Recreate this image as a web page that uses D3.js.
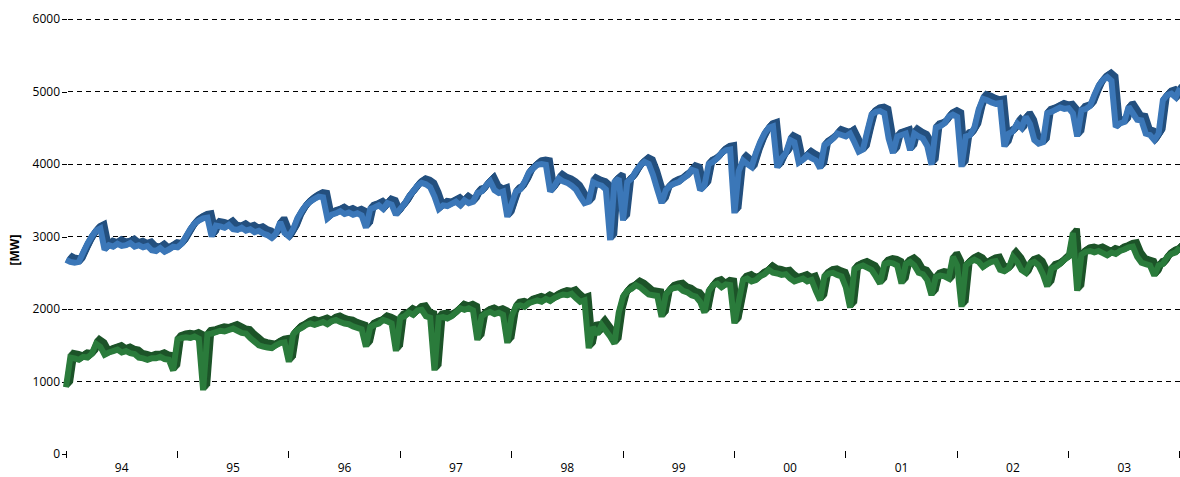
<!DOCTYPE html>
<html><head><meta charset="utf-8">
<script src="https://cdn.jsdelivr.net/npm/d3@7"></script>
<style>body{margin:0;background:#fff}svg{display:block}text{font-family:"Open Sans",sans-serif;fill:#000}</style>
</head><body><svg id="c" width="1180" height="477"></svg>
<script>
const yearLabels = ["94","95","96","97","98","99","00","01","02","03"];
const yTicks = [0,1000,2000,3000,4000,5000,6000];
const gridTicks = [1000,2000,3000,4000,5000,6000];
const startYear = 1994;
const pointsPerYear = 26;
const yLabel = "[MW]";

const blueValues = [
2680,2650,2640,2650,2780,2900,3000,3080,3110,2820,2880,2860,2900,2870,2880,2910,2860,2880,2850,2870,2810,2800,2840,2790,2820,2860,
2850,2900,3000,3100,3180,3220,3250,3260,3000,3150,3140,3120,3160,3100,3090,3120,3080,3100,3060,3080,3040,3020,2980,3040,3200,3050,
3000,3100,3250,3350,3430,3480,3520,3550,3540,3250,3300,3320,3350,3310,3330,3300,3320,3290,3120,3380,3400,3430,3380,3460,3440,3300,
3380,3450,3550,3620,3700,3740,3720,3680,3550,3380,3430,3420,3450,3480,3430,3500,3460,3480,3600,3620,3700,3760,3640,3600,3620,3270,
3450,3620,3650,3750,3880,3940,3990,4000,3990,3620,3700,3800,3760,3740,3700,3650,3550,3460,3480,3750,3720,3700,3650,2950,3750,3800,
3220,3750,3800,3900,3980,4030,4000,3850,3650,3460,3640,3700,3730,3750,3800,3840,3920,3900,3640,3700,4000,4030,4080,4150,4190,4200,
3320,3900,4050,4000,3960,4150,4300,4420,4500,4520,3950,4080,4150,4330,4300,4020,4060,4120,4080,4050,3940,4260,4300,4350,4420,4400,
4380,4420,4300,4170,4200,4450,4680,4720,4730,4700,4350,4150,4380,4400,4420,4190,4420,4380,4350,4250,3990,4500,4520,4560,4650,4680,
4650,3960,4380,4400,4500,4750,4900,4880,4850,4830,4840,4240,4420,4450,4560,4500,4650,4550,4330,4280,4300,4700,4720,4750,4780,4760,
4770,4700,4380,4740,4760,4800,4950,5080,5160,5200,5150,4510,4560,4580,4790,4700,4610,4600,4420,4400,4330,4420,4880,4950,4970,4920,
5050];

const greenValues = [
920,1330,1320,1300,1340,1330,1380,1520,1480,1370,1400,1420,1440,1400,1420,1390,1380,1330,1320,1300,1320,1320,1340,1310,1300,1150,
1580,1600,1610,1600,1620,1590,880,1650,1660,1680,1700,1690,1710,1730,1700,1670,1660,1600,1550,1500,1480,1470,1460,1500,1530,1540,
1270,1650,1710,1740,1780,1800,1780,1800,1820,1790,1830,1850,1820,1800,1790,1760,1740,1720,1480,1750,1780,1800,1850,1830,1800,1420,
1880,1900,1950,1920,1980,1990,1900,1880,1150,1880,1890,1870,1900,1950,2010,1990,2010,1980,1570,1900,1940,1960,1930,1950,1920,1530,
1900,2040,2050,2030,2080,2100,2120,2100,2140,2110,2150,2180,2200,2190,2210,2150,2100,2120,1460,1750,1650,1780,1700,1620,1520,1950,
2170,2250,2280,2330,2300,2250,2200,2190,2180,1890,2200,2270,2290,2300,2250,2230,2190,2170,2100,1950,2250,2330,2350,2300,2340,2330,
1800,2100,2400,2420,2380,2400,2450,2480,2540,2500,2490,2470,2480,2420,2380,2400,2420,2380,2400,2250,2120,2450,2490,2500,2470,2450,
2300,2020,2550,2580,2600,2570,2540,2450,2350,2620,2640,2630,2600,2350,2620,2650,2600,2500,2480,2400,2190,2440,2460,2450,2420,2720,
2600,2030,2600,2650,2680,2650,2580,2620,2650,2660,2540,2520,2560,2720,2650,2540,2500,2630,2650,2600,2480,2310,2560,2580,2620,2680,
2720,3050,2250,2750,2790,2800,2780,2800,2770,2740,2780,2760,2800,2820,2850,2860,2720,2640,2620,2600,2460,2600,2620,2720,2760,2780,
2850];

const svg = d3.select("#c");
const x = d3.scaleLinear().domain([startYear, startYear + yearLabels.length]).range([66, 1180]);
const y = d3.scaleLinear().domain([0, 6000]).range([454, 19]);

// gridlines
svg.append("g").selectAll("line").data(gridTicks).join("line")
  .attr("x1", 68).attr("x2", 1180)
  .attr("y1", d => y(d)).attr("y2", d => y(d))
  .attr("stroke", "#000").attr("stroke-width", 1).attr("stroke-dasharray", "5,4")
  .attr("shape-rendering", "crispEdges");

// y axis
const yAxis = d3.axisLeft(y).tickValues(yTicks).tickSize(5).tickPadding(2).tickFormat(d3.format("d"));
const ya = svg.append("g").attr("transform", "translate(67,0)").call(yAxis);
ya.select(".domain").remove();
ya.selectAll("line").attr("stroke", "#000").attr("shape-rendering", "crispEdges");
ya.selectAll("text").attr("font-size", 12).attr("font-family", "'Open Sans',sans-serif").attr("fill", "#000");

// x axis ticks + labels
const years = d3.range(startYear, startYear + yearLabels.length + 1);
svg.append("g").selectAll("line").data(years).join("line")
  .attr("x1", d => Math.min(x(d), 1179)).attr("x2", d => Math.min(x(d), 1179))
  .attr("y1", 451).attr("y2", 458)
  .attr("stroke", "#000").attr("shape-rendering", "crispEdges");
svg.append("g").selectAll("text").data(yearLabels).join("text")
  .attr("x", (d, i) => x(startYear + i + 0.5))
  .attr("y", 472).attr("text-anchor", "middle").attr("font-size", 12)
  .text(d => d);

// y label
svg.append("text").attr("transform", "translate(19,250) rotate(-90)")
  .attr("text-anchor", "middle").attr("font-size", 12).attr("font-weight", "bold")
  .text(yLabel);

const line = d3.line().x((d, i) => x(startYear + i / pointsPerYear)).y(d => y(d));

function drawSeries(vals, dark, light) {
  const g = svg.append("g");
  for (let k = 5; k >= 1; k--) {
    g.append("path").datum(vals).attr("d", line)
      .attr("transform", `translate(${k * 0.8},${-k * 0.9})`)
      .attr("fill", "none").attr("stroke", dark).attr("stroke-width", 6)
      .attr("stroke-linejoin", "miter").attr("stroke-miterlimit", 2);
  }
  g.append("path").datum(vals).attr("d", line)
    .attr("fill", "none").attr("stroke", light).attr("stroke-width", 6)
    .attr("stroke-linejoin", "miter").attr("stroke-miterlimit", 2);
}
drawSeries(blueValues, "#24507f", "#3b77b8");
drawSeries(greenValues, "#1d5429", "#2a7b3b");
</script></body></html>
